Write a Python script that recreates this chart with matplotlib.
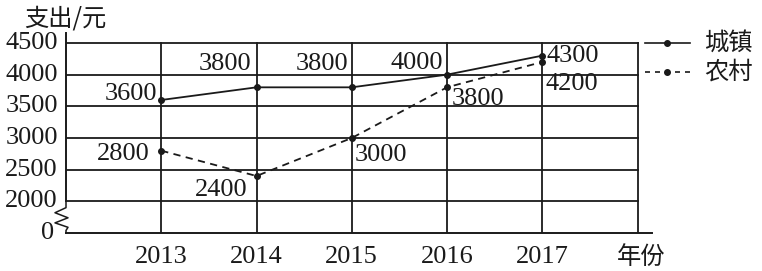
import matplotlib
matplotlib.use("Agg")
import matplotlib.pyplot as plt
from matplotlib.lines import Line2D
import matplotlib.transforms as mtransforms

years = [2013, 2014, 2015, 2016, 2017]
urban = [3600, 3800, 3800, 4000, 4300]
rural = [2800, 2400, 3000, 3800, 4200]
urban_name = "城镇"
rural_name = "农村"
y_ticks = [2000, 2500, 3000, 3500, 4000, 4500]
y_label = "支出/元"
x_label = "年份"

SERIF = ["Liberation Serif", "Noto Sans CJK SC"]
CJK = ["Noto Sans CJK SC", "Liberation Serif"]
FS = 19
CFS = 17.5
INK = "#1a1a1a"

fig = plt.figure(figsize=(7.62, 2.71), dpi=100)
W, H = 762, 271
ax_l, ax_r = 66, 652
ax_b, ax_t = 233, 33
ax = fig.add_axes([ax_l / W, 1 - ax_b / H, (ax_r - ax_l) / W, (ax_b - ax_t) / H])

x0 = 2012
x_grid_end = 2018
ax.set_xlim(x0, x0 + (ax_r - ax_l) / 95.25)
ymin = 1500
ax.set_ylim(ymin, 4500 + 10 * 500 / 31.7)

for s in ["top", "right", "left"]:
    ax.spines[s].set_visible(False)
ax.spines["bottom"].set_linewidth(1.4)
ax.spines["bottom"].set_color(INK)
ax.set_xticks([])
ax.set_yticks([])

# grid
for yv in y_ticks:
    ax.plot([x0, x_grid_end], [yv, yv], color=INK, lw=1.3, zorder=1)
for xv in years + [x_grid_end]:
    ax.plot([xv, xv], [ymin, y_ticks[-1]], color=INK, lw=1.3, zorder=1)

# y axis with break
ax.plot([x0, x0], [y_ticks[0], ax.get_ylim()[1]], color=INK, lw=1.4, clip_on=False)
trans = mtransforms.blended_transform_factory(ax.transAxes, ax.transData)
pxw = 1.0 / (ax_r - ax_l)
zx = [0, 0, -11, 2, -11, 2, 0, 0]
zy = [2000, 1900, 1820, 1740, 1660, 1590, 1540, 1500]
ax.plot([v * pxw for v in zx], zy, color=INK, lw=1.1, transform=trans, clip_on=False)

# y tick labels
for yv in y_ticks:
    ax.text(-8 * pxw, yv, str(yv), transform=trans, ha="right", va="center",
            fontsize=FS, family=SERIF, color=INK)
ax.text(-12 * pxw, ymin, "0", transform=trans, ha="right", va="center",
        fontsize=FS, family=SERIF, color=INK)

# x tick labels
for xv in years:
    fig.text((ax_l + (xv - x0) * 95.25) / W, 1 - 257 / H, str(xv), ha="center",
             va="center", fontsize=FS, family=SERIF, color=INK)
fig.text(641 / W, 1 - 257 / H, x_label, ha="center", va="center", fontsize=CFS,
         family=CJK, color=INK)
fig.text(24 / W, 1 - 19 / H, y_label, ha="left", va="center", fontsize=CFS,
         family=CJK, color=INK)

# data lines
ax.plot(years, urban, color=INK, lw=1.3, marker="o", ms=4, zorder=3)
ax.plot(years, rural, color=INK, lw=1.3, ls=(0, (4, 3)), marker="o", ms=4, zorder=3)

urban_off = [(-4, 6, "right"), (-5, 23, "right"), (-3, 23, "right"), (-4, 12, "right"), (4, 0, "left")]
rural_off = [(-12, -3, "right"), (-9, -14, "right"), (3, -17, "left"), (5, -12, "left"), (3, -22, "left")]
for xv, yv, (dx, dy, ha) in zip(years, urban, urban_off):
    ax.annotate(str(yv), (xv, yv), xytext=(dx, dy), textcoords="offset pixels",
                ha=ha, va="center", fontsize=FS, family=SERIF, color=INK)
for xv, yv, (dx, dy, ha) in zip(years, rural, rural_off):
    ax.annotate(str(yv), (xv, yv), xytext=(dx, dy), textcoords="offset pixels",
                ha=ha, va="center", fontsize=FS, family=SERIF, color=INK)

# legend (manual)
for yy, name, ls in [(43, urban_name, "-"), (72, rural_name, (0, (3, 3)))]:
    fig.add_artist(Line2D([645 / W, 690 / W], [1 - yy / H, 1 - yy / H], color=INK,
                          lw=1.2, ls=ls, transform=fig.transFigure))
    fig.add_artist(Line2D([667 / W], [1 - yy / H], color=INK, marker="o", ms=4,
                          transform=fig.transFigure))
    fig.text(704 / W, 1 - yy / H, name, ha="left", va="center", fontsize=CFS,
             family=CJK, color=INK)

fig.savefig("out.png", dpi=100, facecolor="white")
